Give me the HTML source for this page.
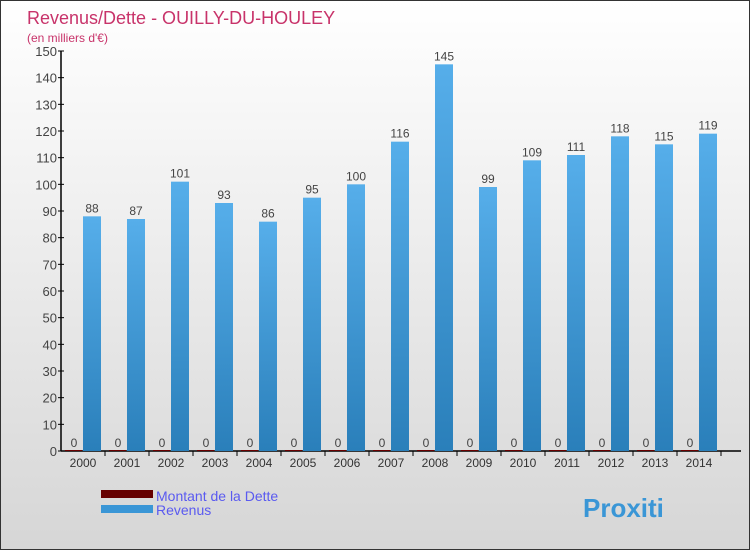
<!DOCTYPE html>
<html><head><meta charset="utf-8"><style>
body{margin:0}
#c{width:750px;height:550px;position:relative;overflow:hidden;background:linear-gradient(#ffffff,#d6d6d6);font-family:"Liberation Sans",sans-serif;border:1px solid #333;box-sizing:border-box}
</style></head><body>
<div id="c">
<svg width="750" height="550" id="svg">
<defs><linearGradient id="gb" x1="0" y1="0" x2="0" y2="1"><stop offset="0" stop-color="#56aeea"/><stop offset="1" stop-color="#2a7fba"/></linearGradient></defs>
</svg>
</div>
<script>
const years=["2000","2001","2002","2003","2004","2005","2006","2007","2008","2009","2010","2011","2012","2013","2014"];
const revenus=[88,87,101,93,86,95,100,116,145,99,109,111,118,115,119];
const dette=[0,0,0,0,0,0,0,0,0,0,0,0,0,0,0];
const yTicks=[0,10,20,30,40,50,60,70,80,90,100,110,120,130,140,150];
const NS="http://www.w3.org/2000/svg";
const svg=document.getElementById('svg');
const y=v=>450-v*400/150;
const xc=i=>82+44*i;
function mk(t,a,txt){const e=document.createElementNS(NS,t);for(const k in a)e.setAttribute(k,a[k]);if(txt!==undefined)e.textContent=txt;svg.appendChild(e);return e;}
let e;
e=mk('text',{x:26,y:23,'font-size':18,fill:'#c8336a'},'Revenus/Dette - OUILLY-DU-HOULEY');

e=mk('text',{x:26,y:41,'font-size':12,fill:'#c8336a'},"(en milliers d'€)");

e=mk('line',{x1:60,y1:50,x2:60,y2:450,stroke:'#000','stroke-width':1.5});

e=mk('line',{x1:60,y1:450,x2:740,y2:450,stroke:'#000','stroke-width':1.5});

yTicks.forEach(t=>{
 e=mk('line',{x1:57,y1:y(t),x2:63,y2:y(t),stroke:'#000'});
 
 e=mk('text',{x:56,y:y(t)+5,'font-size':13,fill:'#444','text-anchor':'end'},t);
 
});
years.forEach((yr,i)=>{
 const c=xc(i);
 e=mk('line',{x1:c+22,y1:450,x2:c+22,y2:455,stroke:'#000'});
 
 e=mk('text',{x:c,y:466,'font-size':12,fill:'#333','text-anchor':'middle'},yr);
 
 e=mk('rect',{x:c-18,y:y(dette[i])-1,width:17,height:450-y(dette[i])+1,fill:'#6a0000'});
 
 e=mk('text',{x:c-9,y:y(dette[i])-4,'font-size':12,fill:'#444','text-anchor':'middle'},dette[i]);
 
 e=mk('rect',{x:c,y:y(revenus[i]),width:18,height:450-y(revenus[i]),fill:'url(#gb)'});
 
 e=mk('text',{x:c+9,y:y(revenus[i])-4,'font-size':12,fill:'#444','text-anchor':'middle'},revenus[i]);
 
});
e=mk('rect',{x:100,y:489,width:52,height:8,fill:'#660000'});

e=mk('text',{x:155,y:500,'font-size':14,fill:'#5a5af0'},'Montant de la Dette');

e=mk('rect',{x:100,y:504,width:52,height:8,fill:'#3a96d6'});

e=mk('text',{x:155,y:514,'font-size':14,fill:'#5a5af0'},'Revenus');

e=mk('text',{x:582,y:516,'font-size':26,'font-weight':'bold',fill:'#3a96d6'},'Proxiti');

</script>
</body></html>
